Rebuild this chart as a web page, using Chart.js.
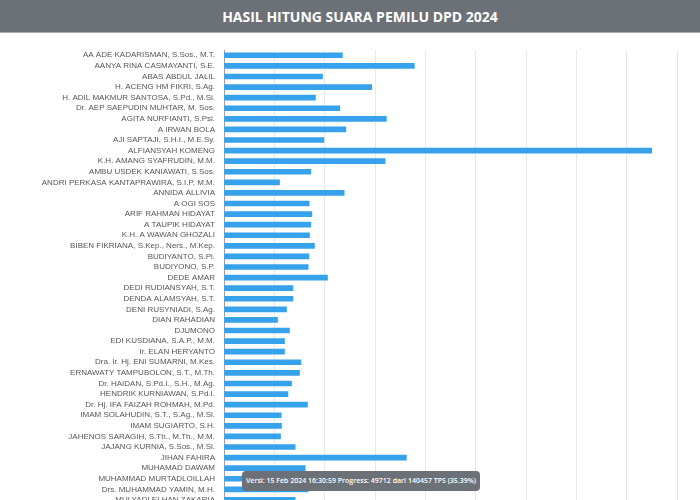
<!DOCTYPE html>
<html>
<head>
<meta charset="utf-8">
<title>Hasil Hitung Suara Pemilu DPD 2024</title>
<script src="https://cdn.jsdelivr.net/npm/chart.js@4.4.1/dist/chart.umd.min.js"></script>
<style>
    html, body {
        margin: 0;
        padding: 0;
        width: 700px;
        height: 500px;
        overflow: hidden;
        background: #ffffff;
    }
    .header {
        position: absolute;
        left: 0;
        top: 0;
        width: 700px;
        height: 33px;
        background: #6c7178;
        border-bottom: 1px solid #a9adb2;
        color: #ffffff;
        font-family: "Open Sans", sans-serif;
        font-weight: 700;
        font-size: 14px;
        line-height: 33px;
        text-align: center;
        padding-left: 20px;
        box-sizing: border-box;
    }
    .chart-box {
        position: absolute;
        left: 0;
        top: 34px;
        width: 700px;
        height: 485px;
    }
    .versi {
        position: absolute;
        left: 242px;
        top: 471px;
        height: 20px;
        padding: 0 4px;
        background: #6c7177;
        border-radius: 4px;
        color: #ffffff;
        font-family: "Open Sans", sans-serif;
        font-weight: 600;
        font-size: 7px;
        line-height: 20px;
        white-space: nowrap;
    }
</style>
</head>
<body>
<div class="header">HASIL HITUNG SUARA PEMILU DPD 2024</div>
<div class="chart-box"><canvas id="suaraChart"></canvas></div>
<div class="versi">Versi: 15 Feb 2024 16:30:59 Progress: 49712 dari 140457 TPS (35.39%)</div>

<script>
// candidate names, top to bottom as shown
var candidates = [
    'AA ADE KADARISMAN, S.Sos., M.T.',
    'AANYA RINA CASMAYANTI, S.E.',
    'ABAS ABDUL JALIL',
    'H. ACENG HM FIKRI, S.Ag.',
    'H. ADIL MAKMUR SANTOSA, S.Pd., M.Si.',
    'Dr. AEP SAEPUDIN MUHTAR, M. Sos.',
    'AGITA NURFIANTI, S.Psi.',
    'A IRWAN BOLA',
    'AJI SAPTAJI, S.H.I., M.E.Sy.',
    'ALFIANSYAH KOMENG',
    'K.H. AMANG SYAFRUDIN, M.M.',
    'AMBU USDEK KANIAWATI, S.Sos.',
    'ANDRI PERKASA KANTAPRAWIRA, S.I.P, M.M.',
    'ANNIDA ALLIVIA',
    'A OGI SOS',
    'ARIF RAHMAN HIDAYAT',
    'A TAUPIK HIDAYAT',
    'K.H. A WAWAN GHOZALI',
    'BIBEN FIKRIANA, S.Kep., Ners., M.Kep.',
    'BUDIYANTO, S.Pi.',
    'BUDIYONO, S.P.',
    'DEDE AMAR',
    'DEDI RUDIANSYAH, S.T.',
    'DENDA ALAMSYAH, S.T.',
    'DENI RUSYNIADI, S.Ag.',
    'DIAN RAHADIAN',
    'DJUMONO',
    'EDI KUSDIANA, S.A.P., M.M.',
    'Ir. ELAN HERYANTO',
    'Dra. Ir. Hj. ENI SUMARNI, M.Kes.',
    'ERNAWATY TAMPUBOLON, S.T., M.Th.',
    'Dr. HAIDAN, S.Pd.I., S.H., M.Ag.',
    'HENDRIK KURNIAWAN, S.Pd.I.',
    'Dr. Hj. IFA FAIZAH ROHMAH, M.Pd.',
    'IMAM SOLAHUDIN, S.T., S.Ag., M.Si.',
    'IMAM SUGIARTO, S.H.',
    'JAHENOS SARAGIH, S.Th., M.Th., M.M.',
    'JAJANG KURNIA, S.Sos., M.Si.',
    'JIHAN FAHIRA',
    'MUHAMAD DAWAM',
    'MUHAMMAD MURTADLOILLAH',
    'Drs. MUHAMMAD YAMIN, M.H.',
    'MULYADI ELHAN ZAKARIA'
];

// votes
var votes = [
    470600, 756300, 391300, 587300, 363500, 460300, 645200, 484100, 396800, 1699600,
    640100, 345200, 220600, 477400, 338500, 349200, 345200, 339700, 359500, 337300,
    334500, 411100, 273800, 273800, 248400, 212700, 260300, 240500, 240500, 305600,
    300000, 268300, 254000, 331700, 227400, 228600, 224600, 282900, 724600, 322600,
    290000, 334500, 282900
];

var axisMax = 1800000;
var axisStep = 200000;

document.addEventListener('DOMContentLoaded', function () {
    var ctx = document.getElementById('suaraChart');

    new Chart(ctx, {
        type: 'bar',
        data: {
            labels: candidates,
            datasets: [{
                label: 'Suara',
                data: votes,
                backgroundColor: '#36a2eb',
                borderWidth: 0,
                barThickness: 5
            }]
        },
        options: {
            indexAxis: 'y',
            responsive: true,
            maintainAspectRatio: false,
            animation: false,
            layout: {
                padding: { top: 16, right: 23, bottom: 0, left: 0 }
            },
            scales: {
                x: {
                    min: 0,
                    max: axisMax,
                    ticks: {
                        display: false,
                        stepSize: axisStep
                    },
                    grid: {
                        color: 'rgba(0, 0, 0, 0.09)',
                        drawTicks: false
                    },
                    border: { display: false }
                },
                y: {
                    afterFit: function (scale) {
                        scale.width = 224;
                    },
                    ticks: {
                        autoSkip: false,
                        padding: 9,
                        color: '#555',
                        font: {
                            family: 'Arial, "Liberation Sans", sans-serif',
                            size: 8
                        }
                    },
                    grid: {
                        display: false,
                        drawTicks: false
                    },
                    border: {
                        display: true,
                        color: 'rgba(0, 0, 0, 0.3)'
                    }
                }
            },
            plugins: {
                legend: { display: false },
                tooltip: { enabled: false }
            }
        }
    });
});
</script>
</body>
</html>
